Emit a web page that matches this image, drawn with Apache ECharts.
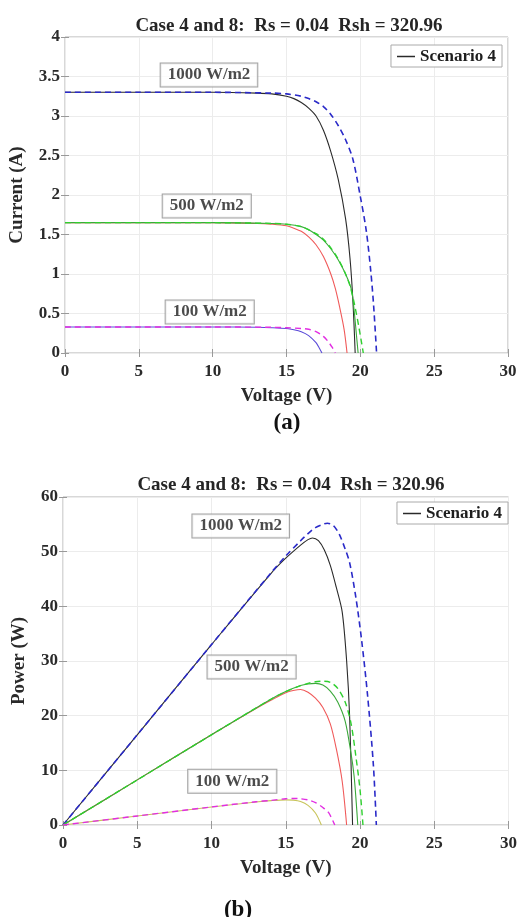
<!DOCTYPE html>
<html>
<head>
<meta charset="utf-8">
<script src="https://cdn.jsdelivr.net/npm/echarts@6/dist/echarts.min.js"></script>
<style>
  html, body { margin: 0; padding: 0; background: #fff; }
  #chart { width: 520px; height: 917px; }
</style>
</head>
<body>
<div id="chart"></div>
<script>
// ---- I-V curves (current in A vs voltage in V) ----
const ivV1000s = [0, 5, 10, 13, 14, 15, 15.5, 16, 16.5, 17, 17.5, 18, 18.5, 19, 19.3, 19.5, 19.65];
const ivI1000s = [3.30, 3.30, 3.30, 3.29, 3.28, 3.25, 3.22, 3.17, 3.10, 3.00, 2.82, 2.55, 2.20, 1.70, 1.20, 0.65, 0];
const ivV1000d = [0, 5, 10, 14, 15, 16, 16.5, 17, 17.5, 18, 18.5, 19, 19.5, 20, 20.4, 20.7, 20.9, 21.1];
const ivI1000d = [3.30, 3.30, 3.30, 3.29, 3.28, 3.25, 3.22, 3.18, 3.12, 3.02, 2.88, 2.70, 2.45, 1.98, 1.55, 1.05, 0.60, 0];
const ivV500r = [0, 5, 10, 13, 14, 15, 15.5, 16, 16.5, 17, 17.5, 18, 18.3, 18.6, 18.9, 19.1];
const ivI500r = [1.65, 1.65, 1.65, 1.64, 1.63, 1.61, 1.58, 1.54, 1.47, 1.37, 1.22, 1.00, 0.82, 0.58, 0.30, 0];
const ivV500g = [0, 5, 10, 14, 15, 16, 16.5, 17, 17.5, 18, 18.5, 19, 19.4, 19.6, 19.75, 19.85];
const ivI500g = [1.65, 1.65, 1.65, 1.64, 1.63, 1.60, 1.56, 1.50, 1.43, 1.32, 1.18, 1.00, 0.80, 0.50, 0.20, 0];
const ivV500d = [0, 5, 10, 14, 15, 16, 16.5, 17, 17.5, 18, 18.5, 19, 19.3, 19.6, 19.9, 20.2];
const ivI500d = [1.65, 1.65, 1.65, 1.64, 1.63, 1.60, 1.56, 1.51, 1.44, 1.33, 1.19, 1.00, 0.85, 0.62, 0.33, 0];
const ivV100s = [0, 5, 10, 13, 14, 15, 15.5, 16, 16.5, 17, 17.2, 17.4];
const ivI100s = [0.33, 0.33, 0.33, 0.325, 0.32, 0.31, 0.295, 0.27, 0.22, 0.13, 0.07, 0];
const ivV100d = [0, 5, 10, 14, 15, 16, 16.5, 17, 17.5, 17.8, 18.1, 18.3];
const ivI100d = [0.33, 0.33, 0.33, 0.325, 0.32, 0.31, 0.30, 0.27, 0.21, 0.15, 0.07, 0];

// ---- P-V curves (power in W vs voltage in V) ----
const pvV1000s = [0, 5, 10, 14, 15, 16, 16.5, 16.8, 17.2, 17.6, 18, 18.4, 18.8, 19.1, 19.3, 19.5];
const pvP1000s = [0, 16.5, 33, 46, 48.8, 51.2, 52.2, 52.5, 52, 50.3, 47.5, 43.5, 39, 30, 20, 0];
const pvV1000d = [0, 5, 10, 14, 15, 16, 16.5, 17, 17.5, 17.8, 18.2, 18.6, 19, 19.3, 19.7, 20.1, 20.5, 20.9, 21.1];
const pvP1000d = [0, 16.5, 33, 46.1, 49.2, 52, 53.3, 54.4, 55, 55.2, 54.8, 53.2, 50.5, 48, 42, 34, 24, 11, 0];
const pvV500r = [0, 5, 10, 13, 14, 15, 15.5, 16, 16.5, 17, 17.5, 18, 18.4, 18.8, 19.1];
const pvP500r = [0, 8.25, 16.5, 21.3, 22.8, 24.2, 24.6, 24.8, 24.3, 23.2, 21.5, 18.5, 14, 8, 0];
const pvV500g = [0, 5, 10, 14, 15, 16, 16.5, 17, 17.5, 18, 18.5, 19, 19.4, 19.6, 19.75, 19.85];
const pvP500g = [0, 8.25, 16.5, 23, 24.4, 25.5, 25.8, 25.9, 25.6, 24.5, 22.5, 19, 13, 9, 4, 0];
const pvV500d = [0, 5, 10, 14, 15, 16, 16.5, 17, 17.5, 18, 18.5, 19, 19.4, 19.7, 20, 20.2];
const pvP500d = [0, 8.25, 16.5, 23, 24.4, 25.5, 25.9, 26.2, 26.3, 26.1, 25, 22.5, 18.5, 13, 6.5, 0];
const pvV100s = [0, 5, 10, 13, 14, 15, 15.5, 16, 16.5, 17, 17.4];
const pvP100s = [0, 1.65, 3.3, 4.2, 4.45, 4.6, 4.55, 4.3, 3.6, 2.2, 0];
const pvV100d = [0, 5, 10, 13, 14, 15, 15.5, 16, 16.5, 17, 17.5, 17.9, 18.3];
const pvP100d = [0, 1.65, 3.3, 4.25, 4.5, 4.8, 4.85, 4.8, 4.6, 4.1, 3.2, 2.2, 0];

// ---- text ----
const titleText = 'Case 4 and 8:  Rs = 0.04  Rsh = 320.96';
const legendName = 'Scenario 4';
const ivLabels = [
  { name: '1000 W/m2', value: [9.75, 3.52] },
  { name: '500 W/m2', value: [9.6, 1.86] },
  { name: '100 W/m2', value: [9.8, 0.52] }
];
const pvLabels = [
  { name: '1000 W/m2', value: [11.97, 54.7] },
  { name: '500 W/m2', value: [12.7, 28.9] },
  { name: '100 W/m2', value: [11.4, 8.0] }
];

const FONT = '"Liberation Serif", "Times New Roman", serif';
const zip = (xs, ys) => xs.map((x, i) => [x, ys[i]]);

const C_BLACK = '#2a2a2a', C_BLUE = '#2a2ac8', C_RED = '#f05a5a',
      C_GREEN = '#3aa83a', C_LGREEN = '#2fd02f', C_PURPLE = '#5a4ad8',
      C_MAGENTA = '#e22ee2', C_OLIVE = '#c8c45a';
const TEXT = '#1e1e1e';

function curve(name, data, color, dashed, xi, yi, width) {
  return {
    name, type: 'line', data, xAxisIndex: xi, yAxisIndex: yi,
    symbol: 'none', smooth: 0.3, animation: false,
    lineStyle: { color, width: width || 1.1, type: dashed ? [6, 4] : 'solid' },
    itemStyle: { color }
  };
}

// boxed irradiance captions anchored at data coordinates
function labelSeries(data, xi, yi) {
  return {
    type: 'scatter', data, xAxisIndex: xi, yAxisIndex: yi, z: 5,
    symbolSize: 1, itemStyle: { color: 'rgba(0,0,0,0)' }, animation: false, silent: true,
    label: {
      show: true, position: 'inside', formatter: '{b}',
      fontFamily: FONT, fontWeight: 'bold', fontSize: 17, color: TEXT,
      backgroundColor: '#fff', borderColor: '#8a8a8a', borderWidth: 1,
      padding: [4, 7, 2, 7]
    }
  };
}

const tickLabel = { fontFamily: FONT, fontWeight: 'bold', fontSize: 17, color: '#2a2a2a' };
const nameStyle = { fontFamily: FONT, fontWeight: 'bold', fontSize: 19, color: '#2a2a2a' };
const gridLine = { show: true, lineStyle: { color: '#ececec', width: 1 } };
const axisLine = { show: false };
const ticksIn = { show: true, inside: true, length: 4, lineStyle: { color: '#999' } };

function xAxisMain(gi, max) {
  return {
    gridIndex: gi, type: 'value', min: 0, max, interval: 5,
    name: 'Voltage (V)', nameLocation: 'middle', nameGap: 34, nameTextStyle: nameStyle,
    axisLabel: Object.assign({ margin: 10 }, tickLabel),
    axisLine, axisTick: ticksIn, splitLine: gridLine
  };
}
function xAxisTop(gi, max) {
  return {
    gridIndex: gi, type: 'value', position: 'top', min: 0, max, interval: 5,
    axisLabel: { show: false }, axisLine, axisTick: ticksIn, splitLine: { show: false }
  };
}
function yAxisMain(gi, max, interval, name, gap) {
  return {
    gridIndex: gi, type: 'value', min: 0, max, interval,
    name, nameLocation: 'middle', nameGap: gap, nameTextStyle: nameStyle,
    axisLabel: Object.assign({ margin: 5 }, tickLabel),
    axisLine, axisTick: ticksIn, splitLine: gridLine
  };
}
function yAxisRight(gi, max, interval) {
  return {
    gridIndex: gi, type: 'value', position: 'right', min: 0, max, interval,
    axisLabel: { show: false }, axisLine, axisTick: ticksIn, splitLine: { show: false }
  };
}

const legendBase = {
  data: [legendName], orient: 'vertical', icon: 'rect',
  backgroundColor: '#fff', borderColor: '#aaa', borderWidth: 1, padding: [3, 6, 2, 6],
  itemWidth: 18, itemHeight: 1.5, itemGap: 2,
  textStyle: { fontFamily: FONT, fontWeight: 'bold', fontSize: 17, color: TEXT }
};

const titleStyle = { fontFamily: FONT, fontWeight: 'bold', fontSize: 19, color: '#252525' };

const option = {
  backgroundColor: '#fff',
  animation: false,
  title: [
    { text: titleText, left: 284, textAlign: 'center', top: 12, textStyle: titleStyle },
    { text: titleText, left: 286, textAlign: 'center', top: 471, textStyle: titleStyle },
    { text: '(a)', left: 282, textAlign: 'center', top: 407,
      textStyle: { fontFamily: FONT, fontWeight: 'bold', fontSize: 23, color: '#111' } },
    { text: '(b)', left: 233, textAlign: 'center', top: 894,
      textStyle: { fontFamily: FONT, fontWeight: 'bold', fontSize: 23, color: '#111' } }
  ],
  legend: [
    Object.assign({ right: 18, top: 45 }, legendBase),
    Object.assign({ right: 12, top: 502 }, legendBase)
  ],
  grid: [
    { left: 59, right: 12, top: 37, height: 316, show: true, borderColor: '#b0b0b0', borderWidth: 1, backgroundColor: '#fff' },
    { left: 63, right: 11, top: 497, height: 328, show: true, borderColor: '#b0b0b0', borderWidth: 1, backgroundColor: '#fff' }
  ],
  xAxis: [xAxisMain(0, 30), xAxisTop(0, 30), xAxisMain(1, 30), xAxisTop(1, 30)],
  yAxis: [
    yAxisMain(0, 4, 0.5, 'Current (A)', 38), yAxisRight(0, 4, 0.5),
    yAxisMain(1, 60, 10, 'Power (W)', 34), yAxisRight(1, 60, 10)
  ],
  series: [
    // I-V
    curve(legendName, zip(ivV1000s, ivI1000s), C_BLACK, false, 0, 0),
    curve('1000 dashed', zip(ivV1000d, ivI1000d), C_BLUE, true, 0, 0, 1.6),
    curve('500 red', zip(ivV500r, ivI500r), C_RED, false, 0, 0),
    curve('500 green', zip(ivV500g, ivI500g), C_GREEN, false, 0, 0),
    curve('500 dashed', zip(ivV500d, ivI500d), C_LGREEN, true, 0, 0, 1.4),
    curve('100 solid', zip(ivV100s, ivI100s), C_PURPLE, false, 0, 0),
    curve('100 dashed', zip(ivV100d, ivI100d), C_MAGENTA, true, 0, 0, 1.4),
    labelSeries(ivLabels, 0, 0),
    // P-V
    curve(legendName, zip(pvV1000s, pvP1000s), C_BLACK, false, 2, 2),
    curve('1000 dashed P', zip(pvV1000d, pvP1000d), C_BLUE, true, 2, 2, 1.6),
    curve('500 red P', zip(pvV500r, pvP500r), C_RED, false, 2, 2),
    curve('500 green P', zip(pvV500g, pvP500g), C_GREEN, false, 2, 2),
    curve('500 dashed P', zip(pvV500d, pvP500d), C_LGREEN, true, 2, 2, 1.4),
    curve('100 solid P', zip(pvV100s, pvP100s), C_OLIVE, false, 2, 2),
    curve('100 dashed P', zip(pvV100d, pvP100d), C_MAGENTA, true, 2, 2, 1.4),
    labelSeries(pvLabels, 2, 2)
  ]
};

const chart = echarts.init(document.getElementById('chart'), null, { renderer: 'canvas' });
chart.setOption(option);
</script>
</body>
</html>
